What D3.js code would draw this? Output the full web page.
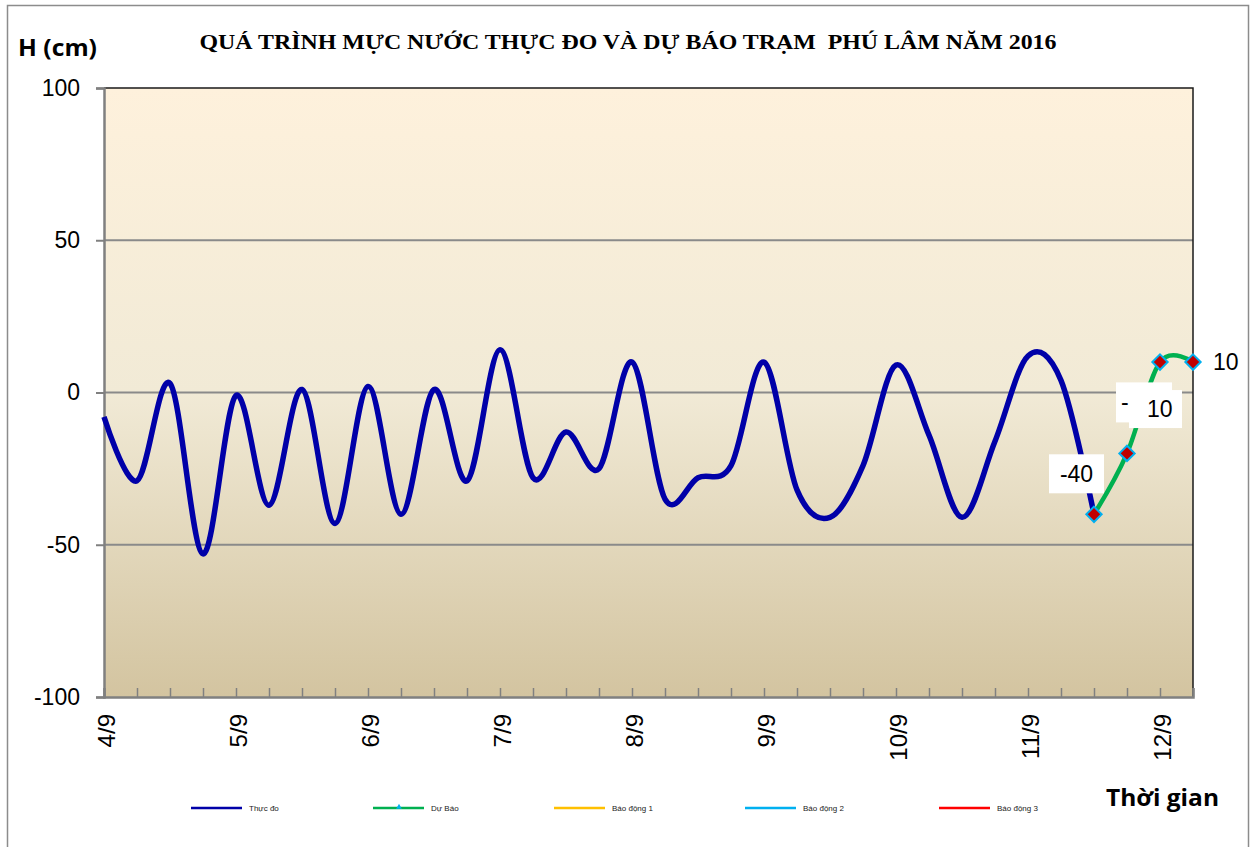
<!DOCTYPE html>
<html><head><meta charset="utf-8">
<script src="https://cdn.jsdelivr.net/npm/d3@7"></script>
<style>body{margin:0;background:#fff}svg{display:block}</style>
</head><body>
<script>
const categories = ["4/9","","","","5/9","","","","6/9","","","","7/9","","","","8/9","","","","9/9","","","","10/9","","","","11/9","","","","12/9",""];
const observed = [-8,-29,3,-53,-1,-37,1,-43,2,-40,1,-29,14,-28,-13,-25,10,-35,-28,-24,10,-32,-41,-24,9,-14,-41,-16,12,4,-40];
const forecastIdx = [30,31,32,33];
const forecast = [-40,-20,10,10];
const yTicks = [100,50,0,-50,-100];
const legendNames = ["Thực đo","Dự Báo","Báo động 1","Báo động 2","Báo động 3"];
const legendColors = ["#0000A8","#00B050","#FFC000","#00B0F0","#FF0000"];

const W = 1257, H = 847;
const svg = d3.select("body").append("svg").attr("width", W).attr("height", H);
const L = 104, R = 1193, T = 88, B = 697;
const num = d => String(d);

const x = d3.scalePoint().domain(d3.range(categories.length)).range([L, R]);
const y = d3.scaleLinear().domain([-100, 100]).range([B, T]);

// outer frame
svg.append("rect").attr("x", 7.5).attr("y", 5.5).attr("width", 1241).attr("height", 850)
  .attr("fill", "#fff").attr("stroke", "#8c8c8c").attr("stroke-width", 1.5);

const defs = svg.append("defs");
const g = defs.append("linearGradient").attr("id", "bg").attr("x1", 0).attr("y1", 0).attr("x2", 0).attr("y2", 1);
g.append("stop").attr("offset", "0%").attr("stop-color", "#FEF1DC");
g.append("stop").attr("offset", "50%").attr("stop-color", "#F1EAD6");
g.append("stop").attr("offset", "100%").attr("stop-color", "#D3C4A0");

svg.append("rect").attr("x", L).attr("y", T).attr("width", R - L).attr("height", B - T).attr("fill", "url(#bg)");

// gridlines
svg.append("g").selectAll("line").data([50, 0, -50]).join("line")
  .attr("x1", L).attr("x2", R).attr("y1", d => y(d)).attr("y2", d => y(d))
  .attr("stroke", "#8a8a8a").attr("stroke-width", 2);

// plot border top/right
svg.append("path").attr("d", `M${L},${T}H${R}V${B}`).attr("fill", "none").attr("stroke", "#1a1a1a").attr("stroke-width", 1.5);

// y axis
const yAx = svg.append("g").attr("transform", `translate(${L},0)`)
  .call(d3.axisLeft(y).tickValues(yTicks).tickSize(8).tickFormat(num));
yAx.select(".domain").attr("stroke", "#808080").attr("stroke-width", 2.5);
yAx.selectAll(".tick line").attr("stroke", "#808080").attr("stroke-width", 2);
yAx.selectAll("text").attr("font-family", "Liberation Sans, Arial, sans-serif").attr("font-size", 23).attr("fill", "#000").attr("x", -24);

// x axis
const xAx = svg.append("g").attr("transform", `translate(0,${B})`)
  .call(d3.axisBottom(x).tickSize(-9).tickFormat(i => categories[i]));
xAx.select(".domain").attr("stroke", "#808080").attr("stroke-width", 2.5);
xAx.selectAll(".tick line").attr("stroke", "#808080").attr("stroke-width", 1.5);
xAx.selectAll("text").attr("font-family", "Liberation Sans, Arial, sans-serif").attr("font-size", 24).attr("fill", "#000")
  .attr("transform", "rotate(-90)").attr("text-anchor", "end").attr("dy", "0.35em").attr("y", 2).attr("x", -17);

const curve = d3.curveCardinal.tension(0);
// observed line
svg.append("path").datum(observed)
  .attr("d", d3.line().x((d, i) => x(i)).y(d => y(d)).curve(curve))
  .attr("fill", "none").attr("stroke", "#0000A8").attr("stroke-width", 5.5).attr("stroke-linejoin", "round");

// forecast line
const fc = forecast.map((v, k) => ({i: forecastIdx[k], v}));
svg.append("path").datum(fc)
  .attr("d", d3.line().x(d => x(d.i)).y(d => y(d.v)).curve(curve))
  .attr("fill", "none").attr("stroke", "#00B050").attr("stroke-width", 4.5);

const diamond = d3.symbol().type(d3.symbolDiamond2).size(150);
svg.append("g").selectAll("path").data(fc).join("path")
  .attr("d", diamond)
  .attr("transform", d => `translate(${x(d.i)},${y(d.v)})`)
  .attr("fill", "#C00000").attr("stroke", "#00B0F0").attr("stroke-width", 2);

// data labels (positioned relative to points)
const lab = svg.append("g").attr("font-family", "Liberation Sans, Arial, sans-serif").attr("font-size", 23).attr("fill", "#000");
function boxLabel(i, v, dx, dy, w, h, text, tx) {
  const cx = x(i) + dx, cy = y(v) + dy;
  lab.append("rect").attr("x", cx).attr("y", cy).attr("width", w).attr("height", h).attr("fill", "#fff");
  lab.append("text").attr("x", cx + (tx == null ? w / 2 : tx)).attr("y", cy + h / 2).attr("dy", "0.35em")
    .attr("text-anchor", tx == null ? "middle" : "start").text(text);
}
boxLabel(30, forecast[0], -45, -60, 55, 39, num(forecast[0]));
boxLabel(31, forecast[1], -11, -71, 56, 40, num(forecast[1]), 5);
boxLabel(32, forecast[2], -31, 28, 53, 38, num(forecast[2]), 18);
lab.append("text").attr("x", x(33) + 20).attr("y", y(forecast[3])).attr("dy", "0.35em").text(num(forecast[3]));

// titles
svg.append("text").attr("x", 628).attr("y", 49).attr("text-anchor", "middle").style("white-space", "pre")
  .attr("font-family", "Liberation Serif, Times New Roman, serif").attr("font-weight", "bold").attr("font-size", 20)
  .attr("textLength", 857).attr("lengthAdjust", "spacingAndGlyphs")
  .text("QUÁ TRÌNH MỰC NƯỚC THỰC ĐO VÀ DỰ BÁO TRẠM  PHÚ LÂM NĂM 2016");
svg.append("text").attr("x", 18).attr("y", 56)
  .attr("font-family", "Open Sans, sans-serif").attr("font-weight", "bold").attr("font-size", 23)
  .attr("textLength", 79).attr("lengthAdjust", "spacingAndGlyphs").text("H (cm)");
svg.append("text").attr("x", 1106).attr("y", 806)
  .attr("font-family", "Open Sans, sans-serif").attr("font-weight", "bold").attr("font-size", 23)
  .attr("textLength", 113).attr("lengthAdjust", "spacingAndGlyphs").text("Thời gian");

// legend
const legX = [191, 373, 554, 745, 939];
const leg = svg.append("g");
legendNames.forEach((n, k) => {
  const gx = legX[k];
  leg.append("line").attr("x1", gx).attr("x2", gx + 51).attr("y1", 808).attr("y2", 808)
    .attr("stroke", legendColors[k]).attr("stroke-width", 2.5);
  if (k === 1) leg.append("path").attr("d", d3.symbol().type(d3.symbolTriangle).size(14)).attr("transform", `translate(${gx+26},807)`).attr("fill", "#00B0F0");
  leg.append("text").attr("x", gx + 58).attr("y", 808).attr("dy", "0.35em")
    .attr("font-family", "Liberation Sans, Arial, sans-serif").attr("font-size", 8).attr("fill", "#222").text(n);
});
</script>
</body></html>
